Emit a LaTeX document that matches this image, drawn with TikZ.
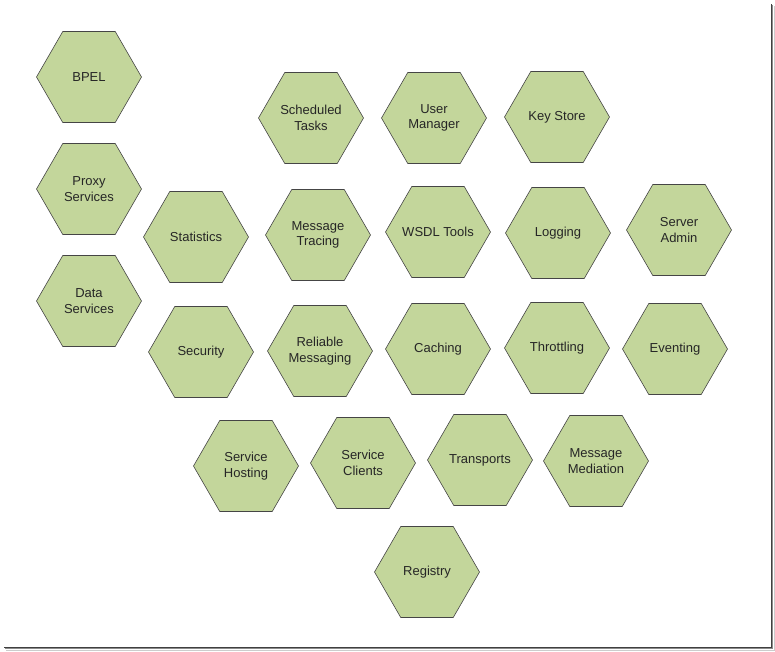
\documentclass[tikz,border=0pt]{standalone}
\usepackage{fontspec}
\setmainfont{Liberation Sans}
\usetikzlibrary{shapes.geometric}
\definecolor{hexgreen}{HTML}{C3D69B}
\definecolor{hexline}{HTML}{454545}
\tikzset{hexcell/.style={regular polygon,regular polygon sides=6,minimum size=105pt,inner sep=-12pt,
  fill=hexgreen,draw=hexline,line width=0.6pt,align=center,text=black!85,
  font=\fontsize{13}{15.5}\selectfont}}

\begin{document}
\begin{tikzpicture}[x=1pt,y=-1pt]
      \useasboundingbox (0,0) rectangle (775,651);
      % frame shadow
      \draw[black!75,line width=1pt] (771,4) -- (771,647) -- (4,647);
      \draw[black!45,line width=1pt] (772.5,5) -- (772.5,648.5) -- (5,648.5);
      \draw[black!20,line width=1pt] (774,6) -- (774,650) -- (6,650);
      \draw
        (89,77) node[hexcell] (bpel){BPEL}
        (89,189) node[hexcell] (proxy){Proxy\\Services}
        (89,301) node[hexcell] (data){Data\\Services};
      \draw
        (311,118) node[hexcell] (sched){Scheduled\\Tasks}
        (434,118) node[hexcell] (user){User\\Manager}
        (557,117) node[hexcell] (keystore){Key Store};
      \draw
        (196,237) node[hexcell] (stats){Statistics}
        (318,235) node[hexcell] (tracing){Message\\Tracing}
        (438,232) node[hexcell] (wsdl){WSDL Tools}
        (558,233) node[hexcell] (logging){Logging}
        (679,230) node[hexcell] (admin){Server\\Admin};
      \draw
        (201,352) node[hexcell] (security){Security}
        (320,351) node[hexcell] (reliable){Reliable\\Messaging}
        (438,349) node[hexcell] (caching){Caching}
        (557,348) node[hexcell] (throttling){Throttling}
        (675,349) node[hexcell] (eventing){Eventing};
      \draw
        (246,466) node[hexcell] (hosting){Service\\Hosting}
        (363,463) node[hexcell] (clients){Service\\Clients}
        (480,460) node[hexcell] (transports){Transports}
        (596,461) node[hexcell] (mediation){Message\\Mediation};
      \draw
        (427,572) node[hexcell] (registry){Registry};
    \end{tikzpicture}
\end{document}
